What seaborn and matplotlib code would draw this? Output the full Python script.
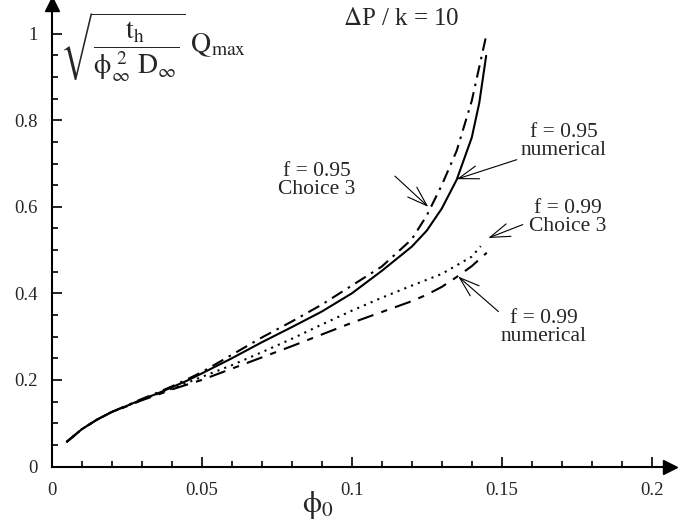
import numpy as np
import pandas as pd
import matplotlib.pyplot as plt
import seaborn as sns

# curve values
phi_95_num = [0.005, 0.01, 0.015, 0.02, 0.025, 0.03, 0.035, 0.04, 0.045, 0.05, 0.06, 0.07, 0.08,
              0.09, 0.1, 0.11, 0.12, 0.125, 0.13, 0.135, 0.14, 0.1425, 0.1448]
q_95_num = [0.057, 0.086, 0.108, 0.126, 0.140, 0.155, 0.168, 0.183, 0.198, 0.215, 0.250, 0.287, 0.322,
            0.358, 0.400, 0.452, 0.508, 0.545, 0.596, 0.663, 0.760, 0.840, 0.949]

phi_95_ch3 = [0.005, 0.01, 0.015, 0.02, 0.025, 0.03, 0.035, 0.04, 0.045, 0.05, 0.06, 0.07, 0.08,
              0.09, 0.1, 0.11, 0.12, 0.125, 0.13, 0.135, 0.14, 0.1448]
q_95_ch3 = [0.057, 0.086, 0.108, 0.126, 0.141, 0.156, 0.170, 0.185, 0.201, 0.218, 0.258, 0.298, 0.335,
            0.374, 0.418, 0.462, 0.525, 0.580, 0.650, 0.730, 0.845, 0.995]

phi_99_ch3 = [0.005, 0.01, 0.015, 0.02, 0.025, 0.03, 0.035, 0.04, 0.045, 0.05, 0.06, 0.07, 0.08,
              0.09, 0.1, 0.11, 0.12, 0.13, 0.14, 0.143]
q_99_ch3 = [0.057, 0.086, 0.108, 0.126, 0.140, 0.154, 0.167, 0.180, 0.193, 0.207, 0.234, 0.264, 0.295,
            0.328, 0.360, 0.390, 0.418, 0.445, 0.485, 0.509]

phi_99_num = [0.005, 0.01, 0.015, 0.02, 0.025, 0.03, 0.035, 0.04, 0.045, 0.05, 0.06, 0.07, 0.08,
              0.09, 0.1, 0.11, 0.12, 0.125, 0.13, 0.135, 0.14, 0.145]
q_99_num = [0.057, 0.086, 0.108, 0.126, 0.139, 0.153, 0.165, 0.178, 0.189, 0.200, 0.226, 0.252, 0.278,
            0.305, 0.332, 0.357, 0.382, 0.397, 0.415, 0.438, 0.463, 0.494]

curves = {
    '0.95 numerical': (phi_95_num, q_95_num),
    '0.95 choice 3': (phi_95_ch3, q_95_ch3),
    '0.99 choice 3': (phi_99_ch3, q_99_ch3),
    '0.99 numerical': (phi_99_num, q_99_num),
}
frames = [pd.DataFrame({'phi0': x, 'q': y, 'curve': name}) for name, (x, y) in curves.items()]
df = pd.concat(frames, ignore_index=True)

sns.set_theme(style='ticks')
plt.rcParams['font.family'] = ['Liberation Serif', 'DejaVu Serif']
plt.rcParams['mathtext.fontset'] = 'stix'

fig = plt.figure(figsize=(6.78, 5.26), dpi=100)
ax = fig.add_axes([0.0763, 0.1131, 0.912, 0.8787])

dash_map = {
    '0.95 numerical': '',
    '0.95 choice 3': (6, 3, 1.2, 3),
    '0.99 choice 3': (1, 2.5),
    '0.99 numerical': (8, 4, 3, 4),
}
sns.lineplot(data=df, x='phi0', y='q', style='curve', dashes=dash_map, color='black',
             linewidth=1.5, estimator=None, sort=False, legend=False, ax=ax)

ax.set_xlim(0, 0.2061)
ax.set_ylim(0, 1.068)
ax.set_xticks([0, 0.05, 0.1, 0.15, 0.2])
ax.set_xticklabels(['0', '0.05', '0.1', '0.15', '0.2'])
ax.set_yticks([0, 0.2, 0.4, 0.6, 0.8, 1.0])
ax.set_yticklabels(['0', '0.2', '0.4', '0.6', '0.8', '1'])
ax.set_xticks(np.arange(0, 0.205, 0.01), minor=True)
ax.set_yticks(np.arange(0, 1.01, 0.05), minor=True)
ax.tick_params(which='both', direction='in', color='black', width=1.2, labelsize=13.5)
ax.tick_params(which='major', length=7)
ax.tick_params(which='minor', length=4)
ax.tick_params(axis='x', pad=11)
ax.tick_params(axis='y', pad=10)
sns.despine(ax=ax)
for s in ['left', 'bottom']:
    ax.spines[s].set_color('black')
    ax.spines[s].set_linewidth(1.5)
ax.set_xlabel('')
ax.set_ylabel('')

# axis arrowheads
ax.plot(1, 0, marker='>', color='black', markersize=10, transform=ax.transAxes, clip_on=False)
ax.plot(0, 1, marker='^', color='black', markersize=10, transform=ax.transAxes, clip_on=False)

ax.text(0.0888, -0.09, r'$\mathrm{\phi}_0$', fontsize=22, ha='center', va='center')
ax.text(0.0028, 0.968,
        r'$\sqrt{\dfrac{\mathrm{t}_\mathrm{h}}{\mathrm{\phi}_\infty^{\ 2}\ \mathrm{D}_\infty}}\ \mathrm{Q}_\mathrm{max}$',
        fontsize=20, ha='left', va='center')
ax.text(0.1164, 1.034, r'$\Delta$P / k = 10', fontsize=18, ha='center', va='center')

# annotations: text and arrows placed separately
labels = ['f = 0.95\nChoice 3', 'f = 0.95\nnumerical', 'f = 0.99\nChoice 3', 'f = 0.99\nnumerical']
label_pos = [(0.0884, 0.661), (0.1707, 0.751), (0.1719, 0.576), (0.1641, 0.322)]
arrow_tails = [(0.1144, 0.671), (0.155, 0.709), (0.157, 0.559), (0.1489, 0.358)]
arrow_tips = [(0.1255, 0.600), (0.135, 0.664), (0.1455, 0.528), (0.1355, 0.439)]

arrow = dict(arrowstyle='->,head_length=0.9,head_width=0.3', color='black', lw=0.8,
             shrinkA=0, shrinkB=0, mutation_scale=16)
for lab, pos, tail, tip in zip(labels, label_pos, arrow_tails, arrow_tips):
    ax.text(pos[0], pos[1], lab, ha='center', va='center', fontsize=15.5, linespacing=0.95)
    ax.annotate('', xy=tip, xytext=tail, arrowprops=arrow)

plt.savefig('out.png', dpi=100)
